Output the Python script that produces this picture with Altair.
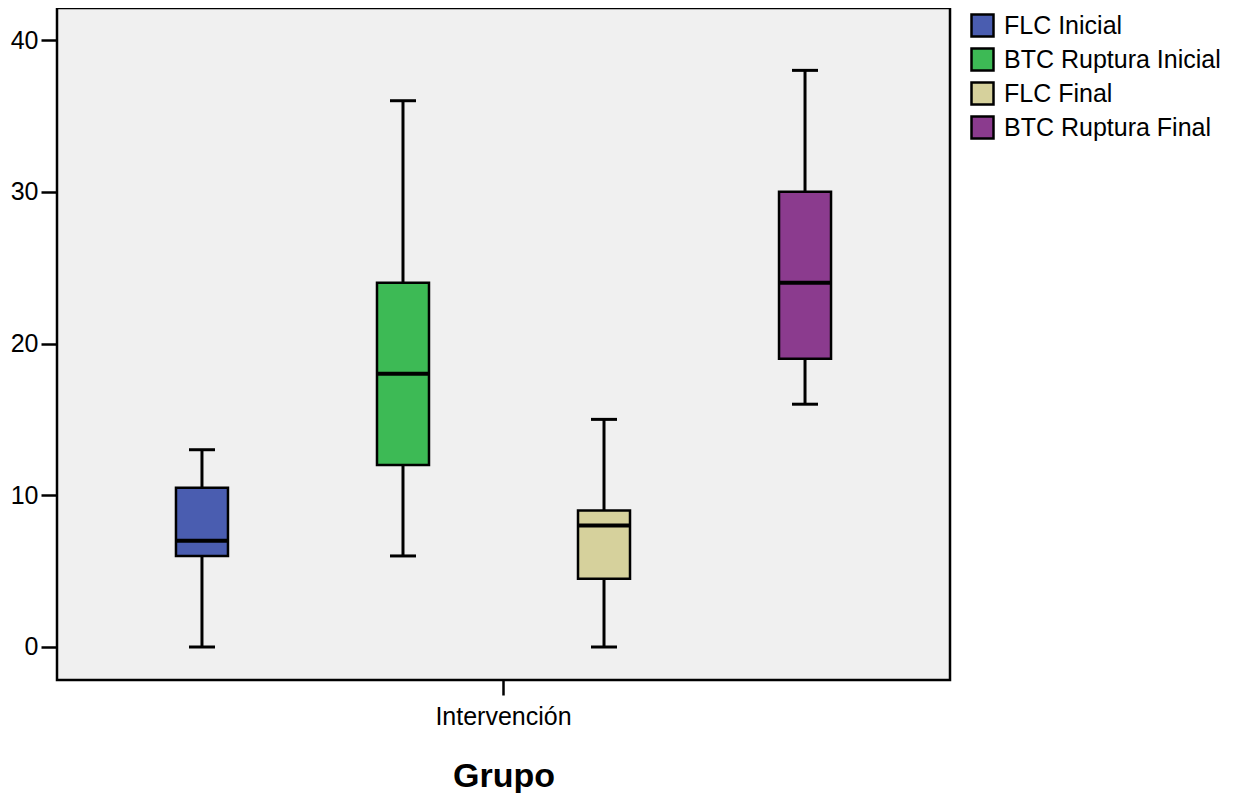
import altair as alt
import pandas as pd

series = ["FLC Inicial", "BTC Ruptura Inicial", "FLC Final", "BTC Ruptura Final"]
category = ["Intervención", "Intervención", "Intervención", "Intervención"]
whisker_low = [0, 6, 0, 16]
q1 = [6, 12, 4.5, 19]
median = [7, 18, 8, 24]
q3 = [10.5, 24, 9, 30]
whisker_high = [13, 36, 15, 38]
colors = ["#4a5db0", "#3dba55", "#d6d19c", "#8b3b8e"]
y_ticks = [0, 10, 20, 30, 40]

df = pd.DataFrame({
    "grupo": category,
    "serie": series,
    "lo": whisker_low,
    "q1": q1,
    "med": median,
    "q3": q3,
    "hi": whisker_high,
})

FONT = "Liberation Sans"

x_enc = alt.X(
    "grupo:N",
    title="Grupo",
    scale=alt.Scale(paddingInner=0, paddingOuter=0.0553),
    axis=alt.Axis(
        labelAngle=0, labelFontSize=25, labelFont=FONT, labelColor="black",
        tickSize=15, tickWidth=2.5, tickColor="black", labelPadding=9,
        domain=False, titleFontSize=34, titleFont=FONT, titleFontWeight="bold",
        titleColor="black", titlePadding=30,
    ),
)
xo_enc = alt.XOffset("serie:N", sort=series,
                     scale=alt.Scale(domain=series, paddingInner=0, paddingOuter=0))
y_scale = alt.Scale(domain=[-2.175, 42.11], nice=False, zero=False)
y_axis = alt.Axis(
    values=y_ticks, grid=False, tickSize=16, tickWidth=2.5, tickColor="black",
    labelFontSize=25, labelFont=FONT, labelColor="black", labelPadding=3,
    domain=False, title=None,
)

base = alt.Chart(df).encode(x=x_enc, xOffset=xo_enc)

whiskers = base.mark_rule(color="black", strokeWidth=3).encode(
    y=alt.Y("lo:Q", scale=y_scale, axis=y_axis), y2="hi:Q"
)
boxes = base.mark_bar(size=52, stroke="black", strokeWidth=2.5, opacity=1).encode(
    y=alt.Y("q1:Q", scale=y_scale, axis=y_axis),
    y2="q3:Q",
    color=alt.Color(
        "serie:N", sort=series,
        scale=alt.Scale(domain=series, range=colors),
        legend=alt.Legend(
            title=None, orient="none", legendX=913, legendY=5,
            symbolType="square", symbolSize=484, symbolStrokeColor="black",
            symbolStrokeWidth=2.5, symbolOpacity=1, labelFontSize=25,
            labelFont=FONT, labelColor="black", labelOffset=9, rowPadding=1,
            padding=0, labelLimit=400,
        ),
    ),
)
medians = base.mark_tick(orient="horizontal", size=52, thickness=4, color="black", opacity=1).encode(
    y=alt.Y("med:Q", scale=y_scale, axis=y_axis)
)
caps_lo = base.mark_tick(orient="horizontal", size=26, thickness=3, color="black", opacity=1).encode(
    y=alt.Y("lo:Q", scale=y_scale, axis=y_axis)
)
caps_hi = base.mark_tick(orient="horizontal", size=26, thickness=3, color="black", opacity=1).encode(
    y=alt.Y("hi:Q", scale=y_scale, axis=y_axis)
)

chart = alt.layer(whiskers, boxes, medians, caps_lo, caps_hi).properties(
    width=893, height=672,
    background="white",
    padding={"left": 2, "top": 0, "right": 0, "bottom": 0},
).configure_view(
    fill="#f0f0f0", stroke="black", strokeWidth=2.5
)

chart.save("out.html", embed_options={"renderer": "svg", "actions": False})
